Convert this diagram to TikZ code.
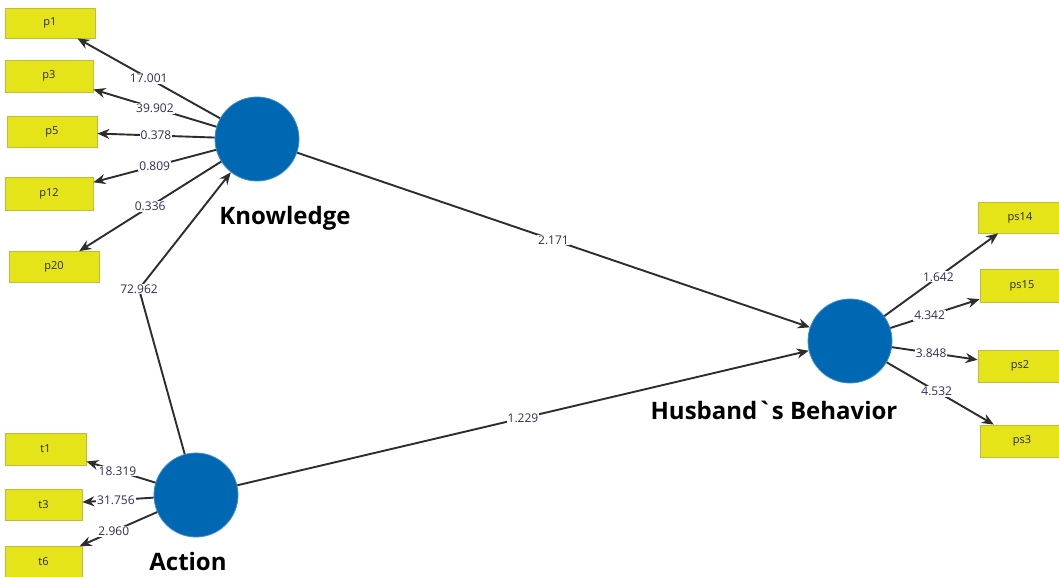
\documentclass[tikz,border=0pt]{standalone}
\usepackage{fontspec}
\setmainfont{Open Sans}
\newfontfamily\plainfont{Open Sans}[Ligatures=TeXOff]
\usetikzlibrary{arrows.meta}
\definecolor{circblue}{RGB}{0,104,178}
\definecolor{circedge}{RGB}{60,140,210}
\definecolor{boxyellow}{RGB}{228,228,24}
\definecolor{boxedge}{RGB}{190,190,60}
\definecolor{linegray}{RGB}{45,45,45}
\definecolor{labcol}{RGB}{45,45,95}
\begin{document}
\begin{tikzpicture}[x=1pt,y=-1pt,
  lv/.style={circle, fill=circblue, draw=circedge, line width=0.8pt, minimum size=84pt, inner sep=0pt},
  ind/.style={rectangle, fill=boxyellow, draw=boxedge, line width=0.8pt, inner sep=0pt, font=\fontsize{11}{13}\selectfont, text=black!85},
  conn/.style={draw=linegray, line width=1.9pt, -{Stealth[length=12pt,width=10pt]}},
  elab/.style={fill=white, inner sep=1pt, font=\fontsize{12}{14}\selectfont, text=labcol},
  lvname/.style={font=\fontsize{24}{28}\selectfont\bfseries, text=black}]
\useasboundingbox (0,0) rectangle (1059,577);
\clip (0,0) rectangle (1059,577);
% latent variables
\node[lv] (K) at (257,139) {};
\node[lv] (A) at (196,495) {};
\node[lv] (H) at (850,341) {};
\node[lvname] (Kn) at (285,218) {Knowledge};
\node[lvname] (An) at (188,561) {Action};
\node[lvname, font=\fontsize{24}{28}\selectfont\plainfont\bfseries] (Hn) at (774,410) {Husband`s Behavior};
% indicators
\node[ind, minimum width=90pt, minimum height=30pt] (p1) at (50,23) {p1};
\node[ind, minimum width=88pt, minimum height=32pt] (p3) at (49,76) {p3};
\node[ind, minimum width=90pt, minimum height=31pt] (p5) at (52,132) {p5};
\node[ind, minimum width=88pt, minimum height=33pt] (p12) at (49,194) {p12};
\node[ind, minimum width=90pt, minimum height=31pt] (p20) at (54,267) {p20};
\node[ind, minimum width=81pt, minimum height=32pt] (t1) at (45.5,449) {t1};
\node[ind, minimum width=77pt, minimum height=31pt] (t3) at (43.5,504.5) {t3};
\node[ind, minimum width=77pt, minimum height=31pt] (t6) at (43.5,562) {t6};
\node[ind, minimum width=84pt, minimum height=31pt] (ps14) at (1020,217.5) {ps14};
\node[ind, minimum width=84pt, minimum height=33pt] (ps15) at (1022,285.5) {ps15};
\node[ind, minimum width=84pt, minimum height=32pt] (ps2) at (1020,366) {ps2};
\node[ind, minimum width=84pt, minimum height=32pt] (ps3) at (1022,441) {ps3};
% outer loadings Knowledge
\draw[conn] (K) -- node[elab, pos=0.5] {17.001} (p1);
\draw[conn] (K) -- node[elab, pos=0.5] {39.902} (p3);
\draw[conn] (K) -- node[elab, pos=0.5] {0.378} (p5);
\draw[conn] (K) -- node[elab, pos=0.5] {0.809} (p12);
\draw[conn] (K) -- node[elab, pos=0.5] {0.336} (p20);
% Action
\draw[conn] (A) -- node[elab, pos=0.55] {18.319} (t1);
\draw[conn] (A) -- node[elab, pos=0.53] {31.756} (t3);
\draw[conn] (A) -- node[elab, pos=0.56] {2.960} (t6);
% Husband
\draw[conn] (H) -- node[elab, pos=0.475] {1.642} (ps14);
\draw[conn] (H) -- node[elab, pos=0.44] {4.342} (ps15);
\draw[conn] (H) -- node[elab, pos=0.457] {3.848} (ps2);
\draw[conn] (H) -- node[elab, pos=0.467] {4.532} (ps3);
% structural paths
\coordinate (b72) at (139,289);
\draw[conn] (A) -- (b72) -- (K);
\node[elab] (l72) at (b72) {72.962};
\draw[conn] (K) -- node[elab, pos=0.5] {2.171} (H);
\draw[conn] (A) -- node[elab, pos=0.5] {1.229} (H);
\end{tikzpicture}
\end{document}
